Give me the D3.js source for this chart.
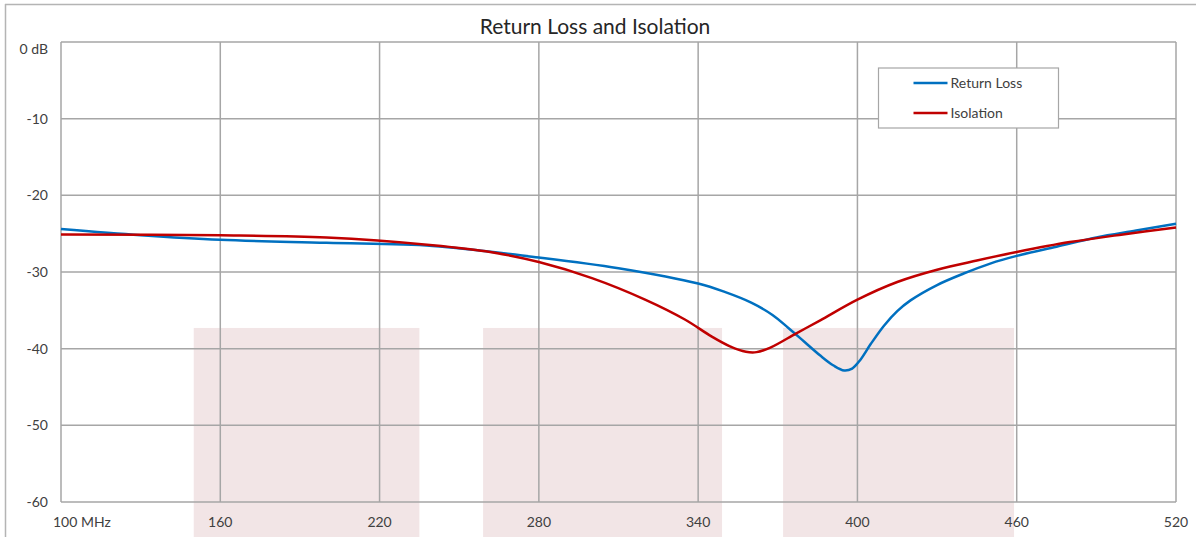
<!DOCTYPE html>
<html>
<head>
<meta charset="utf-8">
<script src="https://cdn.jsdelivr.net/npm/d3@7"></script>
<style>
  body { margin: 0; background: #fff; }
  svg { display: block; font-family: Lato, "Open Sans", sans-serif; }
  .tick-label { fill: #404040; font-size: 14px; }
</style>
</head>
<body>
<div id="chart"></div>
<script>
// frequency axis (MHz) and level axis (dB)
var xTicks = [100, 160, 220, 280, 340, 400, 460, 520];
var xLabels = ["100 MHz", "160", "220", "280", "340", "400", "460", "520"];
var yTicks = [0, -10, -20, -30, -40, -50, -60];
var yLabels = ["0 dB", "-10", "-20", "-30", "-40", "-50", "-60"];

// Return Loss readings
var rlFreq = [100, 130, 160, 200, 240, 280, 310, 340, 350, 360, 368, 374, 380, 386, 391, 395, 398, 401, 405, 410, 415, 420, 430, 440, 450, 460, 475, 490, 505, 520];
var rlDb = [-24.4, -25.2, -25.8, -26.2, -26.6, -28.1, -29.5, -31.5, -32.6, -34.0, -35.6, -37.3, -39.1, -40.9, -42.2, -42.85, -42.6, -41.5, -39.4, -37.0, -35.1, -33.7, -31.7, -30.2, -28.9, -27.9, -26.7, -25.5, -24.6, -23.7];

// Isolation readings
var isoFreq = [100, 160, 200, 240, 260, 280, 300, 320, 335, 345, 352, 358, 362, 367, 377, 386, 400, 415, 430, 445, 460, 480, 500, 520];
var isoDb = [-25.1, -25.2, -25.5, -26.5, -27.3, -28.7, -30.8, -33.6, -36.2, -38.4, -39.7, -40.4, -40.45, -39.9, -38.0, -36.3, -33.6, -31.3, -29.7, -28.5, -27.4, -26.1, -25.1, -24.2];

// shaded bands (MHz) and their top level (dB)
var bandStart = [150, 259, 372];
var bandEnd = [235, 349, 459];
var bandTop = -37.3;

var seriesNames = ["Return Loss", "Isolation"];
var seriesColors = ["#0070c0", "#c00000"];

var W = 1196, H = 537;
var margin = { top: 42, right: 20, bottom: 35, left: 61 };

var svg = d3.select("#chart").append("svg")
  .attr("width", W)
  .attr("height", H);

var xScale = d3.scaleLinear().domain([100, 520]).range([margin.left, 1176]);
var yScale = d3.scaleLinear().domain([-60, 0]).range([502, margin.top]);

// outer frame (top and left edges visible)
svg.append("line").attr("x1", 5).attr("x2", W).attr("y1", 4.5).attr("y2", 4.5)
  .attr("stroke", "#b4b4b4").attr("stroke-width", 1.5);
svg.append("line").attr("x1", 5.5).attr("x2", 5.5).attr("y1", 4).attr("y2", H)
  .attr("stroke", "#b4b4b4").attr("stroke-width", 1.5);

// title
svg.append("text")
  .attr("x", 595).attr("y", 34)
  .attr("text-anchor", "middle")
  .attr("fill", "#262626")
  .style("font-size", "21px")
  .text("Return Loss and Isolation");

// bands
svg.selectAll(".band")
  .data(bandStart)
  .enter()
  .append("rect")
  .attr("class", "band")
  .attr("x", function (d) { return xScale(d); })
  .attr("width", function (d, i) { return xScale(bandEnd[i]) - xScale(d); })
  .attr("y", yScale(bandTop))
  .attr("height", H - yScale(bandTop))
  .attr("fill", "#f2e5e6");

// gridlines
svg.selectAll(".hgrid")
  .data(yTicks)
  .enter()
  .append("line")
  .attr("class", "hgrid")
  .attr("x1", xScale(100)).attr("x2", xScale(520))
  .attr("y1", function (d) { return yScale(d); })
  .attr("y2", function (d) { return yScale(d); })
  .attr("stroke", "#a6a6a6").attr("stroke-width", 1.5);

svg.selectAll(".vgrid")
  .data(xTicks)
  .enter()
  .append("line")
  .attr("class", "vgrid")
  .attr("x1", function (d) { return xScale(d); })
  .attr("x2", function (d) { return xScale(d); })
  .attr("y1", yScale(0)).attr("y2", yScale(-60))
  .attr("stroke", "#a6a6a6").attr("stroke-width", 1.5);

// y labels
svg.selectAll(".ylab")
  .data(yTicks)
  .enter()
  .append("text")
  .attr("class", "tick-label")
  .attr("x", 48)
  .attr("y", function (d) { return yScale(d) + (d === 0 ? 7 : 0); })
  .attr("dy", "0.35em")
  .attr("text-anchor", "end")
  .text(function (d, i) { return yLabels[i]; });

// x labels
svg.selectAll(".xlab")
  .data(xTicks)
  .enter()
  .append("text")
  .attr("class", "tick-label")
  .attr("x", function (d, i) { return i === 0 ? 53 : xScale(d); })
  .attr("y", 522)
  .attr("dy", "0.35em")
  .attr("text-anchor", function (d, i) { return i === 0 ? "start" : "middle"; })
  .text(function (d, i) { return xLabels[i]; });

// curves
var line = d3.line()
  .x(function (d) { return xScale(d.x); })
  .y(function (d) { return yScale(d.y); })
  .curve(d3.curveCatmullRom.alpha(0.5));

var datasets = [
  rlFreq.map(function (f, i) { return { x: f, y: rlDb[i] }; }),
  isoFreq.map(function (f, i) { return { x: f, y: isoDb[i] }; })
];

svg.selectAll(".series")
  .data(datasets)
  .enter()
  .append("path")
  .attr("class", "series")
  .attr("d", line)
  .attr("fill", "none")
  .attr("stroke", function (d, i) { return seriesColors[i]; })
  .attr("stroke-width", 2.5);

// legend
var legend = svg.append("g").attr("transform", "translate(878.5,68)");
legend.append("rect")
  .attr("width", 180).attr("height", 60)
  .attr("fill", "#fff")
  .attr("stroke", "#a6a6a6").attr("stroke-width", 1.2);

var items = legend.selectAll(".item")
  .data(seriesNames)
  .enter()
  .append("g")
  .attr("transform", function (d, i) { return "translate(0," + (15 + i * 30) + ")"; });

items.append("line")
  .attr("x1", 35).attr("x2", 69)
  .attr("stroke", function (d, i) { return seriesColors[i]; })
  .attr("stroke-width", 2.5);

items.append("text")
  .attr("x", 72)
  .attr("dy", "0.35em")
  .attr("fill", "#404040")
  .style("font-size", "14px")
  .text(function (d) { return d; });
</script>
</body>
</html>
